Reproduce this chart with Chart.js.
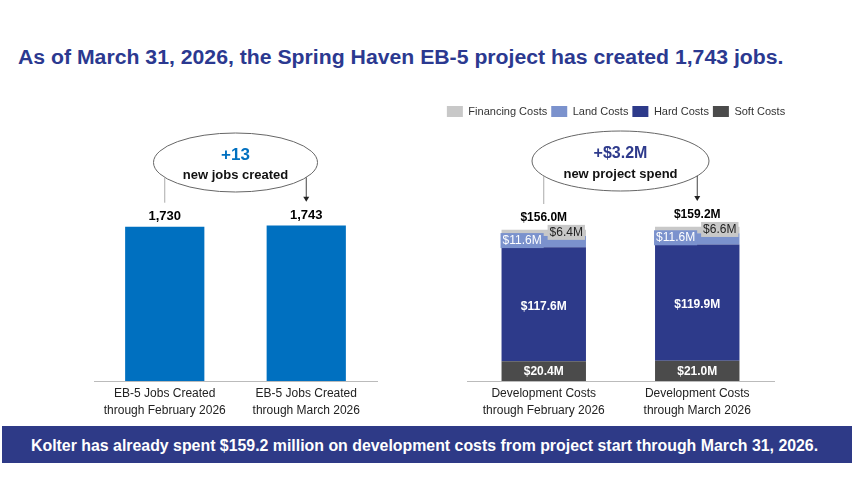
<!DOCTYPE html>
<html>
<head>
<meta charset="utf-8">
<script src="https://cdn.jsdelivr.net/npm/chart.js@4"></script>
<style>
  body { margin: 0; width: 852px; height: 502px; background: #fff; position: relative; overflow: hidden; font-family: "Liberation Sans", Arial, sans-serif; }
  #title { position: absolute; left: 18px; top: 47px; font-size: 20px; line-height: 20px; font-weight: bold; color: #2B3990; white-space: nowrap; transform-origin: 0 0; }
  #banner { position: absolute; left: 2px; top: 426px; width: 850px; height: 37px; background: #2E3A87; }
  #bannerText { position: absolute; left: 31px; top: 438px; font-size: 16px; line-height: 16px; font-weight: bold; color: #fff; white-space: nowrap; transform-origin: 0 0; }
  canvas { position: absolute; }
</style>
</head>
<body>
<div id="title">As of March 31, 2026, the Spring Haven EB-5 project has created 1,743 jobs.</div>
<canvas id="jobs" width="310" height="323" style="left:80px;top:100px;width:310px;height:323px"></canvas>
<canvas id="costs" width="392" height="321" style="left:420px;top:102px;width:392px;height:321px"></canvas>
<div id="banner"></div>
<div id="bannerText">Kolter has already spent $159.2 million on development costs from project start through March 31, 2026.</div>
<script>
const jobCategories = [["EB-5 Jobs Created", "through February 2026"], ["EB-5 Jobs Created", "through March 2026"]];
const jobValues = [1730, 1743];
const jobLabels = ["1,730", "1,743"];

const costCategories = [["Development Costs", "through February 2026"], ["Development Costs", "through March 2026"]];
const softCosts = [20.4, 21.0];
const hardCosts = [117.6, 119.9];
const landCosts = [11.6, 11.6];
const financingCosts = [6.4, 6.6];
const costTotals = ["$156.0M", "$159.2M"];

const FONT = "'Liberation Sans', Arial, sans-serif";
const LAND = "#7B92CD";
const FIN = "#C8C8C8";

Chart.defaults.font.family = FONT;
Chart.defaults.color = "#222";

function fit(id, w) {
  const el = document.getElementById(id);
  el.style.transform = "scaleX(" + (w / el.offsetWidth) + ")";
}
fit("title", 765);
fit("bannerText", 787);

function text(ctx, str, x, y, font, color, align) {
  ctx.font = font;
  ctx.fillStyle = color;
  ctx.textAlign = align || "center";
  ctx.textBaseline = "middle";
  ctx.fillText(str, x, y);
}

const fmt = v => "$" + v.toFixed(1) + "M";
const mid = b => (b.y + b.base) / 2;

// ellipse callout between the two bars, with a line from the first bar and an arrow to the second
const callout = {
  id: "callout",
  afterDatasetsDraw(chart, args, o) {
    const ctx = chart.ctx;
    const bars = chart.getDatasetMeta(0).data;
    const x0 = bars[0].x, x1 = bars[1].x;
    const cx = (x0 + x1) / 2;
    const edge = x => o.cy + o.ry * Math.sqrt(Math.max(0, 1 - ((x - cx) / o.rx) ** 2));
    ctx.save();
    ctx.beginPath();
    ctx.ellipse(cx, o.cy, o.rx, o.ry, 0, 0, Math.PI * 2);
    ctx.strokeStyle = "#666";
    ctx.lineWidth = 1;
    ctx.stroke();
    text(ctx, o.big, cx, o.bigY, "bold " + o.bigSize + "px " + FONT, o.bigColor);
    text(ctx, o.small, cx, o.smallY, "bold 13px " + FONT, "#111");
    ctx.strokeStyle = "#aaa";
    ctx.beginPath();
    ctx.moveTo(x0, edge(x0));
    ctx.lineTo(x0, o.lineEnd);
    ctx.stroke();
    ctx.strokeStyle = "#444";
    ctx.beginPath();
    ctx.moveTo(x1, edge(x1));
    ctx.lineTo(x1, o.arrowEnd - 4);
    ctx.stroke();
    ctx.fillStyle = "#222";
    ctx.beginPath();
    ctx.moveTo(x1 - 3, o.arrowEnd - 5);
    ctx.lineTo(x1 + 3, o.arrowEnd - 5);
    ctx.lineTo(x1, o.arrowEnd);
    ctx.fill();
    ctx.restore();
  }
};

const jobLabelsPlugin = {
  id: "jobLabels",
  afterDatasetsDraw(chart) {
    chart.getDatasetMeta(0).data.forEach((bar, i) => {
      text(chart.ctx, jobLabels[i], bar.x, bar.y - 10, "bold 13px " + FONT, "#000");
    });
  }
};

const costLabelsPlugin = {
  id: "costLabels",
  afterDatasetsDraw(chart) {
    const ctx = chart.ctx;
    const m = i => chart.getDatasetMeta(i).data;
    const soft = m(0), hard = m(1), land = m(2), fin = m(3);
    soft.forEach((bar, i) => {
      text(ctx, fmt(softCosts[i]), bar.x, mid(bar) + 1, "bold 12px " + FONT, "#fff");
      text(ctx, fmt(hardCosts[i]), hard[i].x, mid(hard[i]) + 2, "bold 12px " + FONT, "#fff");

      const l = land[i];
      ctx.font = "12px " + FONT;
      const lw = ctx.measureText(fmt(landCosts[i])).width + 4;
      const lx = l.x - l.width / 2 - 1, ly = mid(l) - 1;
      ctx.fillStyle = LAND;
      ctx.fillRect(lx, ly - 7.5, lw, 15);
      text(ctx, fmt(landCosts[i]), lx + 2, ly, "12px " + FONT, "#fff", "left");

      const f = fin[i];
      ctx.font = "12px " + FONT;
      const fw = ctx.measureText(fmt(financingCosts[i])).width + 4;
      const fx = f.x + f.width / 2 - 1 - fw, fy = mid(f) - 0.5;
      ctx.fillStyle = FIN;
      ctx.fillRect(fx, fy - 7.5, fw, 15);
      text(ctx, fmt(financingCosts[i]), fx + 2, fy, "12px " + FONT, "#222", "left");

      text(ctx, costTotals[i], f.x, f.y - 12, "bold 12px " + FONT, "#000");
    });
  }
};

const xAxis = {
  grid: { display: false, drawTicks: false },
  border: { display: true, color: "#bbb", dash: [2, 2] },
  ticks: { padding: 4, font: { size: 12, lineHeight: "17px" }, color: "#222", maxRotation: 0 }
};

new Chart(document.getElementById("jobs"), {
  type: "bar",
  plugins: [callout, jobLabelsPlugin],
  data: {
    labels: jobCategories,
    datasets: [{ data: jobValues, backgroundColor: "#0070C0", barPercentage: 0.56, categoryPercentage: 1 }]
  },
  options: {
    responsive: false,
    animation: false,
    layout: { padding: { left: 14, right: 13 } },
    plugins: {
      legend: { display: false },
      tooltip: { enabled: false },
      callout: { cy: 62.5, rx: 82, ry: 29.5, big: "+13", bigSize: 17, bigColor: "#0070C0", bigY: 55, small: "new jobs created", smallY: 75, lineEnd: 102.7, arrowEnd: 101.7 }
    },
    scales: {
      x: xAxis,
      y: { display: false, min: 0, max: 3150 }
    }
  }
});

new Chart(document.getElementById("costs"), {
  type: "bar",
  plugins: [callout, costLabelsPlugin],
  data: {
    labels: costCategories,
    datasets: [
      { label: "Soft Costs", data: softCosts, backgroundColor: "#4B4B4B" },
      { label: "Hard Costs", data: hardCosts, backgroundColor: "#2D3A8A" },
      { label: "Land Costs", data: landCosts, backgroundColor: LAND },
      { label: "Financing Costs", data: financingCosts, backgroundColor: FIN }
    ].map(d => Object.assign(d, { barPercentage: 0.55, categoryPercentage: 1 }))
  },
  options: {
    responsive: false,
    animation: false,
    plugins: {
      legend: {
        position: "top",
        reverse: true,
        labels: { boxWidth: 16, boxHeight: 11, padding: 4, color: "#333", font: { size: 11 } }
      },
      tooltip: { enabled: false },
      callout: { cy: 59, rx: 88.5, ry: 30, big: "+$3.2M", bigSize: 16, bigColor: "#2E3A8C", bigY: 51.3, small: "new project spend", smallY: 72, lineEnd: 102, arrowEnd: 99 }
    },
    scales: {
      x: Object.assign({ stacked: true }, xAxis),
      y: {
        stacked: true, min: 0, max: 262,
        grid: { display: false }, ticks: { display: false }, border: { display: false },
        afterFit: s => { s.width = 47; }
      },
      y2: {
        type: "linear", position: "right",
        grid: { display: false }, ticks: { display: false }, border: { display: false },
        afterFit: s => { s.width = 38; }
      }
    }
  }
});
</script>
</body>
</html>
